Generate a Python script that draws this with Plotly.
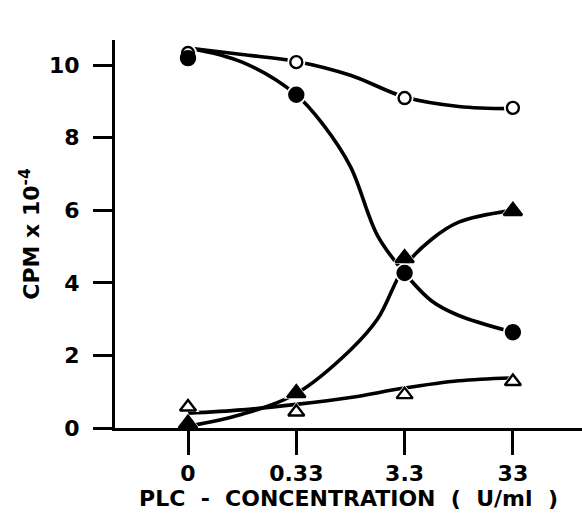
import plotly.graph_objects as go

# Categories (PLC concentration, U/ml)
categories = ["0", "0.33", "3.3", "33"]
cat_index = [0, 1, 2, 3]

# Measured points (CPM x 10^-4)
open_circles = [10.33, 10.08, 9.09, 8.82]
filled_circles = [10.19, 9.18, 4.27, 2.64]
filled_triangles = [0.12, 0.96, 4.68, 5.98]
open_triangles = [0.58, 0.44, 0.92, 1.28]

# Hand-drawn fitted curves
curve_x = [0, 0.5, 1, 1.5, 2, 2.5, 3]
open_circle_curve = [10.47, 10.29, 10.1, 9.72, 9.12, 8.86, 8.8]
filled_circle_curve_x = [0, 0.5, 1, 1.25, 1.5, 1.75, 2, 2.25, 2.5, 3]
filled_circle_curve = [10.47, 10.08, 9.18, 8.35, 7.2, 5.3, 4.27, 3.5, 3.1, 2.64]
filled_triangle_curve_x = [0, 0.5, 1, 1.5, 1.75, 2, 2.25, 2.5, 3]
filled_triangle_curve = [0.05, 0.38, 0.95, 2.15, 3.0, 4.45, 5.2, 5.67, 6.0]
open_triangle_curve = [0.41, 0.5, 0.65, 0.84, 1.1, 1.3, 1.38]

y_ticks = [0, 2, 4, 6, 8, 10]

FONT = "DejaVu Sans, Liberation Sans, Arial, sans-serif"

fig = go.Figure()

curves = [
    (curve_x, open_circle_curve),
    (filled_circle_curve_x, filled_circle_curve),
    (filled_triangle_curve_x, filled_triangle_curve),
    (curve_x, open_triangle_curve),
]
for cx, cy in curves:
    fig.add_trace(go.Scatter(
        x=cx, y=cy, mode="lines",
        line=dict(color="black", width=3.6, shape="spline", smoothing=1.0),
        hoverinfo="skip", showlegend=False, cliponaxis=False))

markers = [
    (open_circles, "circle", "white", 12),
    (filled_circles, "circle", "black", 14),
    (filled_triangles, "triangle-up", "black", 16),
    (open_triangles, "triangle-up", "white", 14),
]
# white halos that break the lines around each symbol
for vals, sym, fill, size in markers:
    fig.add_trace(go.Scatter(
        x=cat_index, y=vals, mode="markers",
        marker=dict(symbol=sym, color="white", size=size + 6, line=dict(width=0)),
        hoverinfo="skip", showlegend=False, cliponaxis=False))
for vals, sym, fill, size in markers:
    fig.add_trace(go.Scatter(
        x=cat_index, y=vals, mode="markers",
        marker=dict(symbol=sym, color=fill, size=size,
                    line=dict(color="black", width=2.4)),
        showlegend=False, cliponaxis=False))

fig.update_layout(
    width=582, height=516,
    margin=dict(l=115, r=0, t=40, b=88),
    paper_bgcolor="white", plot_bgcolor="white",
    font=dict(family=FONT, color="black", size=22, weight="bold"),
    xaxis=dict(
        range=[-0.674, 3.638], automargin=False,
        tickmode="array", tickvals=cat_index, ticktext=categories,
        ticks="outside", ticklen=24, tickwidth=3, tickcolor="black",
        showline=True, linecolor="black", linewidth=3,
        showgrid=False, zeroline=False,
        tickfont=dict(family=FONT, size=22, color="black", weight="bold"),
        title=dict(text="PLC  -  CONCENTRATION  (  U/ml  )",
                   font=dict(family=FONT, size=22, color="black", weight="bold"), standoff=0),
    ),
    yaxis=dict(
        range=[0, 10.69], automargin=False,
        tickmode="array", tickvals=y_ticks, ticktext=[str(v) for v in y_ticks],
        ticks="outside", ticklen=19, tickwidth=3, tickcolor="black",
        showline=True, linecolor="black", linewidth=3,
        showgrid=False, zeroline=False,
        ticklabelstandoff=9,
        tickfont=dict(family=FONT, size=22, color="black", weight="bold"),
        title=dict(text="CPM x 10<sup>-4</sup>",
                   font=dict(family=FONT, size=22, color="black", weight="bold"), standoff=4),
    ),
)

fig.write_html("out.html", config={"displayModeBar": False},
               post_script="document.body.style.margin='0';document.body.style.overflow='hidden';")
